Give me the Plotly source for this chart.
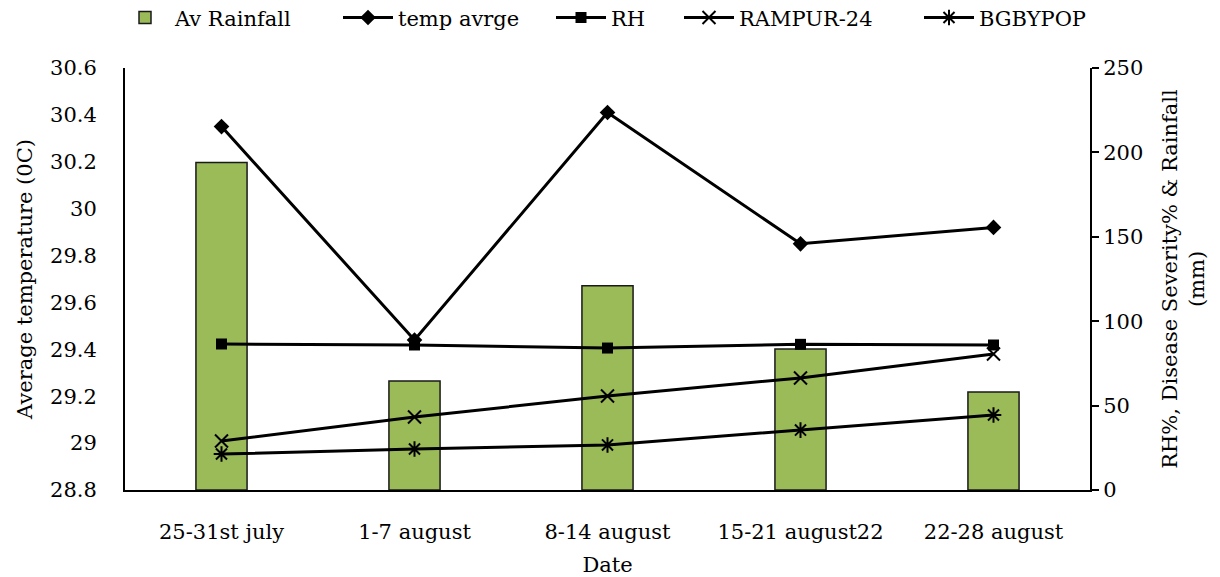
import plotly.graph_objects as go

dates = ["25-31st july", "1-7 august", "8-14 august", "15-21 august22", "22-28 august"]
rainfall = [194, 64.5, 121, 83.5, 58]
temp_avg = [30.35, 29.44, 30.41, 29.85, 29.92]
rh = [86.5, 85.9, 84.1, 86.3, 85.9]
rampur = [29, 43.2, 55.7, 66.4, 80.6]
bgbypop = [21.3, 24.3, 26.7, 35.5, 44.4]

FONT = "DejaVu Serif"
FS = 21

fig = go.Figure()
fig.add_trace(go.Bar(x=dates, y=rainfall, name="Av Rainfall", yaxis="y2",
                     width=0.265, legend="legend",
                     marker=dict(color="#9BBB59", line=dict(color="#1a1a1a", width=1.5))))
fig.add_trace(go.Scatter(x=dates, y=temp_avg, name="temp avrge", yaxis="y",
                         mode="lines+markers", legend="legend2",
                         line=dict(color="black", width=3),
                         marker=dict(symbol="diamond", size=12, color="black")))
fig.add_trace(go.Scatter(x=dates, y=rh, name="RH", yaxis="y2",
                         mode="lines+markers", legend="legend3",
                         line=dict(color="black", width=3),
                         marker=dict(symbol="square", size=11, color="black")))
fig.add_trace(go.Scatter(x=dates, y=rampur, name="RAMPUR-24", yaxis="y2",
                         mode="lines+markers", legend="legend4",
                         line=dict(color="black", width=3),
                         marker=dict(symbol="x-thin-open", size=13, color="black",
                                     line=dict(color="black", width=2))))
fig.add_trace(go.Scatter(x=dates, y=bgbypop, name="BGBYPOP", yaxis="y2",
                         mode="lines+markers", legend="legend5",
                         line=dict(color="black", width=3),
                         marker=dict(symbol="asterisk-open", size=13, color="black",
                                     line=dict(color="black", width=2))))


def leg(xpix):
    return dict(orientation="h", xref="container", x=xpix / 1220, xanchor="left",
                yref="container", y=0.969, yanchor="middle",
                font=dict(family=FONT, size=FS, color="black"),
                itemwidth=50, bgcolor="rgba(0,0,0,0)")


fig.update_layout(
    width=1220, height=577,
    margin=dict(l=125, r=130, t=68, b=87, autoexpand=False),
    paper_bgcolor="white", plot_bgcolor="white",
    font=dict(family=FONT, size=FS, color="black"),
    showlegend=True,
    legend=leg(115), legend2=leg(338), legend3=leg(551),
    legend4=leg(679), legend5=leg(919),
    xaxis=dict(type="category", showline=True, linecolor="black", linewidth=2,
               ticks="", showgrid=False, zeroline=False,
               tickfont=dict(family=FONT, size=FS),
               ticklabelstandoff=22,
               title=dict(text="Date", font=dict(family=FONT, size=FS), standoff=15)),
    yaxis=dict(range=[28.8, 30.6], showline=True, linecolor="black",
               linewidth=2, ticks="", showgrid=False, zeroline=False,
               tickvals=[28.8, 29, 29.2, 29.4, 29.6, 29.8, 30, 30.2, 30.4, 30.6],
               ticktext=["28.8", "29", "29.2", "29.4", "29.6", "29.8", "30", "30.2", "30.4", "30.6"],
               ticklabelstandoff=22,
               tickfont=dict(family=FONT, size=FS),
               title=dict(text="Average temperature (0C)", font=dict(family=FONT, size=FS),
                          standoff=12)),
    yaxis2=dict(range=[0, 250], dtick=50, overlaying="y", side="right",
                showline=True, linecolor="black", linewidth=2,
                ticks="outside", ticklen=7, tickwidth=2, tickcolor="black",
                showgrid=False, zeroline=False,
                tickfont=dict(family=FONT, size=FS),
                title=dict(text="RH%, Disease Severity% & Rainfall<br>(mm)",
                           font=dict(family=FONT, size=FS), standoff=20)),
)

fig.write_html("out.html")
